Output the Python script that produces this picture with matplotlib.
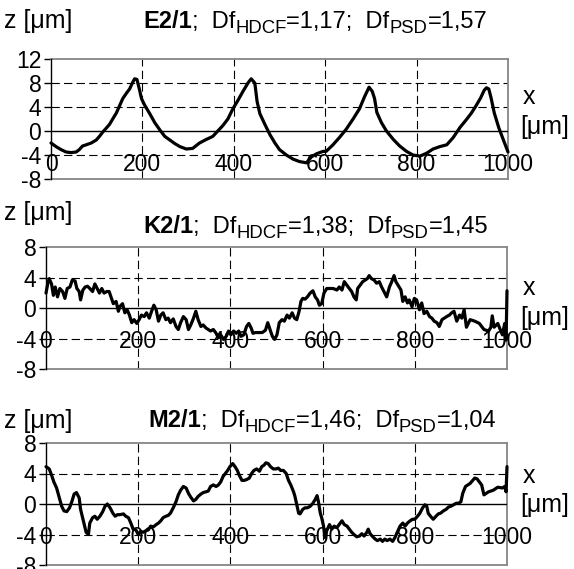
import matplotlib
matplotlib.use("Agg")
import matplotlib.pyplot as plt
import matplotlib.transforms as mtransforms

plt.rcParams["font.family"] = ["Liberation Sans", "DejaVu Sans"]
plt.rcParams["axes.unicode_minus"] = False

# profile E2/1
e2_x = [0, 11, 22, 33, 44, 55, 62, 69, 77, 88,
        99, 106, 113, 120, 128, 135, 143, 150, 157, 165,
        172, 178, 183, 188, 193, 198, 205, 216, 227, 238,
        249, 260, 271, 282, 296, 310, 325, 340, 354, 365,
        376, 387, 398, 409, 420, 431, 438, 446, 451, 457,
        468, 479, 490, 500, 515, 530, 544, 559, 570, 581,
        595, 602, 617, 631, 646, 661, 675, 686, 696, 703,
        708, 713, 723, 734, 749, 763, 778, 792, 807, 822,
        836, 851, 866, 880, 895, 910, 920, 930, 940, 948,
        953, 958, 963, 970, 980, 990, 1000]
e2_z = [-2.0, -2.6, -3.1, -3.5, -3.6, -3.5, -3.1, -2.5, -2.3, -2.0,
        -1.5, -0.9, -0.2, 0.4, 1.1, 2.0, 3.0, 4.2, 5.4, 6.3,
        7.0, 8.0, 8.7, 8.6, 7.1, 5.4, 4.3, 2.9, 1.4, 0.2,
        -0.9, -1.5, -2.1, -2.6, -3.0, -2.9, -2.0, -1.4, -0.9, 0.0,
        0.9, 2.0, 3.7, 5.1, 6.6, 8.0, 8.7, 8.0, 4.9, 2.9,
        1.1, -0.6, -2.0, -3.1, -4.0, -4.7, -5.1, -5.3, -4.3, -3.8,
        -3.4, -3.4, -2.3, -1.1, 0.3, 2.0, 3.7, 5.7, 7.3, 6.6,
        5.4, 3.1, 1.4, 0.0, -1.4, -2.5, -3.4, -4.0, -4.2, -3.7,
        -3.0, -2.6, -2.3, -1.1, 0.6, 2.0, 3.0, 4.2, 5.5, 6.8,
        7.2, 7.0, 5.5, 3.0, 0.5, -1.5, -3.5]

# profile K2/1
k2_x = [0, 4, 7, 12, 16, 20, 25, 30, 36, 41,
        46, 52, 57, 63, 67, 72, 75, 80, 85, 90,
        95, 101, 106, 111, 116, 121, 126, 132, 137, 141,
        146, 152, 157, 160, 166, 171, 176, 181, 186, 191,
        197, 202, 207, 213, 218, 224, 229, 234, 239, 244,
        249, 254, 260, 265, 270, 276, 282, 287, 292, 298,
        304, 309, 314, 320, 325, 330, 336, 341, 347, 352,
        357, 363, 369, 374, 379, 385, 391, 396, 401, 407,
        413, 418, 423, 429, 435, 440, 445, 449, 454, 462,
        469, 476, 481, 486, 491, 496, 501, 506, 512, 517,
        523, 528, 534, 539, 544, 549, 553, 557, 562, 567,
        573, 579, 584, 589, 593, 598, 603, 609, 616, 623,
        631, 636, 642, 647, 653, 658, 663, 668, 673, 676,
        681, 687, 692, 697, 701, 706, 712, 717, 723, 728,
        733, 739, 745, 750, 755, 759, 764, 770, 774, 779,
        784, 788, 794, 799, 804, 810, 815, 820, 826, 832,
        837, 842, 848, 853, 859, 864, 869, 875, 880, 885,
        891, 897, 902, 907, 912, 920, 930, 940, 950, 960,
        965, 968, 972, 980, 990, 995, 998, 1000]
k2_z = [2.0, 3.3, 3.9, 3.2, 1.7, 2.8, 1.5, 2.6, 2.2, 1.3,
        2.6, 2.8, 3.7, 3.6, 2.6, 2.2, 1.1, 2.4, 2.8, 2.9,
        2.6, 2.2, 3.2, 2.6, 2.0, 2.6, 2.0, 2.2, 2.2, 1.5,
        0.6, 0.9, -0.4, 0.2, 0.6, -0.6, -0.2, -0.9, -1.9, -1.5,
        -2.0, -1.5, -0.9, -1.1, -0.6, -1.3, -0.4, 0.4, -0.2, -1.7,
        -0.9, -0.6, -1.5, -1.3, -1.9, -1.4, -2.4, -2.8, -1.9, -1.1,
        -1.5, -2.8, -2.2, -1.3, -0.4, -1.5, -2.4, -2.2, -2.6, -2.8,
        -3.0, -2.8, -3.3, -3.9, -3.5, -4.1, -3.7, -3.0, -3.5, -3.0,
        -3.3, -3.0, -3.7, -3.5, -2.4, -2.0, -2.6, -3.3, -3.2, -3.2,
        -3.2, -2.9, -1.9, -2.8, -3.7, -4.1, -3.5, -1.9, -1.5, -1.7,
        -0.9, -1.3, -0.6, -1.3, -1.5, -0.4, 0.9, 1.3, 1.2, 1.5,
        2.0, 2.3, 1.5, 1.1, 0.4, 0.6, 2.0, 2.6, 2.6, 2.6,
        2.4, 2.8, 2.4, 3.5, 3.0, 2.6, 2.2, 1.5, 1.1, 2.6,
        3.0, 3.5, 3.7, 3.9, 4.3, 3.9, 3.7, 3.3, 3.5, 2.8,
        2.2, 1.5, 2.8, 3.5, 4.3, 3.5, 3.0, 2.4, 0.9, 1.5,
        0.7, 1.1, 0.2, 1.3, 1.1, -0.2, 0.7, -0.7, -0.4, -1.1,
        -1.3, -1.7, -1.9, -2.4, -1.5, -1.3, -1.1, -0.9, -0.6, -0.4,
        -1.7, -0.9, -1.3, -0.2, -2.5, -1.5, -1.7, -2.0, -2.8, -3.0,
        -2.5, -1.0, -2.5, -2.0, -3.5, -2.0, -4.2, 2.3]

# profile M2/1
m2_x = [0, 7, 12, 17, 23, 29, 34, 39, 45, 51,
        56, 61, 66, 72, 75, 81, 87, 92, 95, 101,
        106, 111, 117, 123, 128, 133, 139, 145, 150, 155,
        160, 168, 173, 179, 184, 189, 195, 200, 205, 211,
        217, 222, 227, 233, 239, 244, 249, 254, 260, 265,
        270, 276, 282, 287, 292, 298, 304, 309, 314, 320,
        325, 330, 336, 341, 347, 352, 357, 363, 369, 374,
        379, 384, 389, 394, 399, 405, 410, 415, 419, 425,
        430, 435, 441, 446, 451, 457, 463, 468, 473, 477,
        482, 487, 493, 499, 504, 509, 515, 521, 526, 531,
        537, 540, 544, 548, 551, 557, 562, 567, 573, 579,
        584, 588, 591, 595, 598, 602, 605, 609, 615, 620,
        625, 631, 636, 642, 647, 653, 658, 663, 668, 674,
        680, 685, 690, 696, 699, 703, 709, 714, 719, 725,
        730, 735, 740, 746, 752, 757, 762, 768, 774, 779,
        784, 790, 795, 800, 806, 811, 817, 822, 826, 829,
        834, 840, 846, 851, 856, 862, 868, 873, 878, 884,
        890, 895, 900, 904, 910, 920, 930, 935, 945, 950,
        960, 970, 980, 990, 995, 998, 1000]
m2_z = [4.9, 4.6, 3.8, 2.9, 2.1, 0.8, -0.3, -0.9, -1.0, -0.5,
        0.3, 1.3, 1.5, 0.8, -0.7, -2.2, -3.7, -4.0, -2.5, -1.8,
        -1.6, -2.0, -1.6, -1.0, -0.3, 0.0, -0.5, -1.2, -1.6, -1.4,
        -1.4, -1.3, -1.6, -1.8, -2.5, -3.3, -3.4, -4.0, -3.6, -3.7,
        -3.5, -3.4, -2.9, -3.0, -2.7, -2.5, -2.2, -1.8, -1.6, -1.5,
        -1.2, -0.5, 0.3, 1.2, 1.8, 2.3, 2.1, 1.4, 0.9, 0.4,
        0.6, 1.0, 1.3, 1.5, 1.6, 1.7, 2.3, 2.5, 2.3, 2.5,
        2.9, 3.6, 4.0, 4.4, 4.9, 5.3, 4.9, 4.4, 3.8, 3.1,
        3.1, 3.2, 3.4, 4.0, 4.4, 4.6, 4.3, 4.9, 5.1, 5.4,
        5.3, 4.9, 4.6, 4.6, 4.7, 4.4, 4.4, 4.0, 3.1, 2.5,
        1.6, 1.0, -0.1, -1.2, -1.3, -0.7, -0.5, -0.5, -0.3, 0.1,
        0.6, 1.1, 0.3, -1.2, -1.8, -2.9, -4.4, -3.5, -2.7, -3.3,
        -2.9, -3.1, -2.7, -2.2, -2.7, -2.9, -3.3, -3.7, -4.0, -4.3,
        -4.2, -3.9, -4.2, -3.7, -3.3, -3.9, -4.3, -4.6, -4.8, -4.6,
        -4.9, -4.6, -4.8, -4.6, -4.9, -4.4, -3.7, -2.9, -2.5, -2.9,
        -2.5, -2.2, -2.0, -2.0, -1.6, -1.2, -0.5, -0.1, -0.3, -1.2,
        -1.6, -2.0, -1.6, -1.3, -1.2, -0.9, -0.7, -0.4, -0.3, -0.1,
        0.1, 0.1, 0.3, 1.4, 2.3, 2.7, 3.4, 3.3, 2.5, 1.2,
        1.6, 1.8, 2.2, 2.1, 2.3, 1.6, 4.9]

x_ticks = [0, 200, 400, 600, 800, 1000]
x_grid = [200, 400, 600, 800]
names = ["E2/1", "K2/1", "M2/1"]
df_hdcf = ["1,17", "1,38", "1,46"]
df_psd = ["1,57", "1,45", "1,04"]
y_ticks = [[-8, -4, 0, 4, 8, 12], [-8, -4, 0, 4, 8], [-8, -4, 0, 4, 8]]
profiles = [(e2_x, e2_z), (k2_x, k2_z), (m2_x, m2_z)]

W, H = 574, 569
FS_TICK = 16.5
FS_TITLE = 17
FS_SUB = 13.3
FS_LAB = 18
GRAY = "#868686"

# layout in pixels: axes box (left, top, right, bottom) and text anchors
boxes = [(51, 59, 508, 179), (46, 247.5, 507, 369), (46, 443, 507, 565)]
z_lab = [(4, 28), (4, 220), (4, 428)]
title_pos = [(143, 28), (143, 233), (148, 427)]
xlab1 = [(523, 104), (523, 295), (523, 483)]
xlab2 = [(520, 134), (520, 325), (520, 512)]

fig = plt.figure(figsize=(W / 100, H / 100), dpi=100, facecolor="white")
renderer = fig.canvas.get_renderer()


def fpos(px, py):
    return px / W, 1 - py / H


def rich_title(px, py, pieces):
    # pieces: (text, size, weight, drop in px) written one after another
    x = px
    for s, size, weight, drop in pieces:
        t = fig.text(*fpos(x, py + drop), s, fontsize=size, fontweight=weight,
                     ha="left", va="baseline")
        x = t.get_window_extent(renderer).x1


dash = (0, (7.5, 3.8))

for i in range(3):
    l, t, r, b = boxes[i]
    ax = fig.add_axes([l / W, 1 - b / H, (r - l) / W, (b - t) / H])
    x, z = profiles[i]
    yt = y_ticks[i]

    ax.plot(x, z, color="black", linewidth=2.3, solid_joinstyle="round",
            solid_capstyle="round", zorder=5, clip_on=False)
    ax.set_xlim(0, 1000)
    ax.set_ylim(yt[0], yt[-1])

    for v in yt[1:-1]:
        if v == 0:
            ax.axhline(0, color="black", linewidth=1.0, zorder=3)
        else:
            ax.axhline(v, color="black", linewidth=0.8, linestyle=dash, zorder=2)
    for v in x_grid:
        ax.axvline(v, color="black", linewidth=0.8, linestyle=dash, zorder=2)

    for s in ["top", "right", "bottom"]:
        ax.spines[s].set_color(GRAY)
        ax.spines[s].set_linewidth(1.3)
    ax.spines["left"].set_color("black")
    ax.spines["left"].set_linewidth(1.0)
    ax.spines["left"].set_zorder(4)

    ax.set_xticks([])
    ax.set_yticks(yt)
    ax.set_yticklabels([str(v) for v in yt])
    ax.tick_params(axis="y", direction="out", length=5, width=1.0,
                   pad=2, labelsize=FS_TICK, colors="black")

    # category labels hang just under the zero line
    trans = mtransforms.offset_copy(ax.transData, fig=fig, x=0, y=-40 * 0.72,
                                    units="points")
    for v in x_ticks:
        ax.text(v, 0, str(v), transform=trans, ha="center", va="baseline",
                fontsize=FS_TICK, clip_on=False, zorder=1)

    fig.text(*fpos(*z_lab[i]), "z [μm]", fontsize=FS_LAB, ha="left", va="baseline")
    rich_title(*title_pos[i], [
        (names[i], FS_TITLE, "bold", 0),
        (";  Df", FS_TITLE, "normal", 0),
        ("HDCF", FS_SUB, "normal", 5),
        ("=" + df_hdcf[i] + ";  Df", FS_TITLE, "normal", 0),
        ("PSD", FS_SUB, "normal", 5),
        ("=" + df_psd[i], FS_TITLE, "normal", 0),
    ])
    fig.text(*fpos(*xlab1[i]), "x", fontsize=FS_LAB, ha="left", va="baseline")
    fig.text(*fpos(*xlab2[i]), "[μm]", fontsize=FS_LAB, ha="left", va="baseline")

fig.savefig("out.png", dpi=100, facecolor="white")
